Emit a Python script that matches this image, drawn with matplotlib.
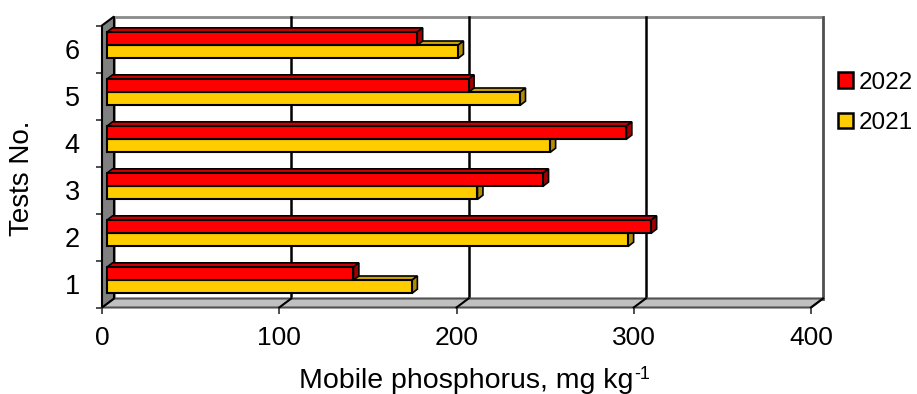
import matplotlib
matplotlib.use('Agg')
import matplotlib.pyplot as plt
from matplotlib.patches import Polygon, Patch
import numpy as np

plt.rcParams['font.family'] = ['Liberation Sans', 'DejaVu Sans']

tests = [1, 2, 3, 4, 5, 6]
p2021 = [172, 294, 209, 250, 233, 198]
p2022 = [139, 307, 246, 293, 204, 175]
series_labels = ['2022', '2021']
x_ticks = [0, 100, 200, 300, 400]

RED, RED_TOP, RED_SIDE = '#FF0000', '#CC0000', '#A00000'
YEL, YEL_TOP, YEL_SIDE = '#FFCC00', '#CCA300', '#B08C00'

W, H = 917, 394
fig = plt.figure(figsize=(W / 100, H / 100), dpi=100)
L, B, AW, AH = 102, 86.5, 709, 282
ax = fig.add_axes([L / W, B / H, AW / W, AH / H])
ax.set_xlim(0, 400)
ax.set_ylim(0.5, 6.5)
for s in ax.spines.values():
    s.set_visible(False)
ax.patch.set_visible(False)

sx = AW / 400.0
sy = AH / 6.0


def off(px, py):
    return px / sx, py / sy


wdx, wdy = off(12, 9)
ymin, ymax = 0.5, 6.5
xmax = 400

# back wall
ax.add_patch(Polygon([(wdx, ymin + wdy), (xmax + wdx, ymin + wdy), (xmax + wdx, ymax + wdy), (wdx, ymax + wdy)],
                     closed=True, fc='white', ec='#8a8a8a', lw=2, clip_on=False, zorder=0))
for xv in x_ticks[1:]:
    ax.plot([xv + wdx, xv + wdx], [ymin + wdy, ymax + wdy], color='black' if xv < 400 else '#505050',
            lw=1.8, clip_on=False, zorder=1)
# floor
ax.add_patch(Polygon([(0, ymin), (xmax, ymin), (xmax + wdx, ymin + wdy), (wdx, ymin + wdy)],
                     closed=True, fc='#C0C0C0', ec='#505050', lw=1.5, clip_on=False, zorder=2))
for xv in x_ticks[1:]:
    ax.plot([xv, xv + wdx], [ymin, ymin + wdy], color='black', lw=1.5, clip_on=False, zorder=3)
# left wall
ax.add_patch(Polygon([(0, ymin), (wdx, ymin + wdy), (wdx, ymax + wdy), (0, ymax)],
                     closed=True, fc='#808080', ec='black', lw=1.5, clip_on=False, zorder=3))

# bars
fo = off(5, 3.75)
bo = off(10.5, 8)
d = (bo[0] - fo[0], bo[1] - fo[1])
h = 0.28
z = 10
for i, t in enumerate(tests):
    for val, yc, fc, tc, sc in [(p2021[i], t - h / 2, YEL, YEL_TOP, YEL_SIDE),
                                (p2022[i], t + h / 2, RED, RED_TOP, RED_SIDE)]:
        x0 = fo[0]
        x1 = val + fo[0]
        y0 = yc - h / 2 + fo[1]
        y1 = yc + h / 2 + fo[1]
        ax.add_patch(Polygon([(x0, y1), (x1, y1), (x1 + d[0], y1 + d[1]), (x0 + d[0], y1 + d[1])],
                             closed=True, fc=tc, ec='black', lw=1.2, clip_on=False, zorder=z))
        ax.add_patch(Polygon([(x1, y0), (x1, y1), (x1 + d[0], y1 + d[1]), (x1 + d[0], y0 + d[1])],
                             closed=True, fc=sc, ec='black', lw=1.2, clip_on=False, zorder=z))
        ax.barh([yc + fo[1]], [val], height=h, left=fo[0], color=fc, edgecolor='black', lw=1.5,
                zorder=z + 1, clip_on=False)
        z += 2

# ticks
ax.set_xticks(x_ticks)
ax.set_xticklabels([str(v) for v in x_ticks])
ax.tick_params(axis='x', direction='out', length=4.5, width=1.3, color='#404040', pad=8.5, labelsize=19)
ax.set_yticks(np.arange(0.5, 7, 1.0))
ax.set_yticklabels([])
ax.tick_params(axis='y', which='major', direction='out', length=4.5, width=1.3, color='#404040')
ax.set_yticks(tests, minor=True)
ax.set_yticklabels([str(t) for t in tests], minor=True)
ax.tick_params(axis='y', which='minor', length=0, pad=16, labelsize=19.5)

# x axis title with superscript
main = fig.text(466 / W, 1 - 388 / H, 'Mobile phosphorus, mg kg', ha='center', va='baseline', fontsize=20.5)
fig.canvas.draw()
bb = main.get_window_extent()
fig.text((bb.x1 + 1) / W, 1 - 379 / H, '-1', ha='left', va='baseline', fontsize=13)

fig.text(22 / W, 1 - 178 / H, 'Tests No.', rotation=90, ha='center', va='center', fontsize=20)

handles = [Patch(fc=RED, ec='black', lw=1.8), Patch(fc=YEL, ec='black', lw=1.8)]
fig.legend(handles, series_labels, loc='center left', bbox_to_anchor=(838 / W, 1 - 103 / H), frameon=False,
           fontsize=17.5, handlelength=0.62, handleheight=0.62, handletextpad=0.25, labelspacing=0.75,
           borderpad=0, borderaxespad=0)

fig.savefig('out.png', dpi=100)
